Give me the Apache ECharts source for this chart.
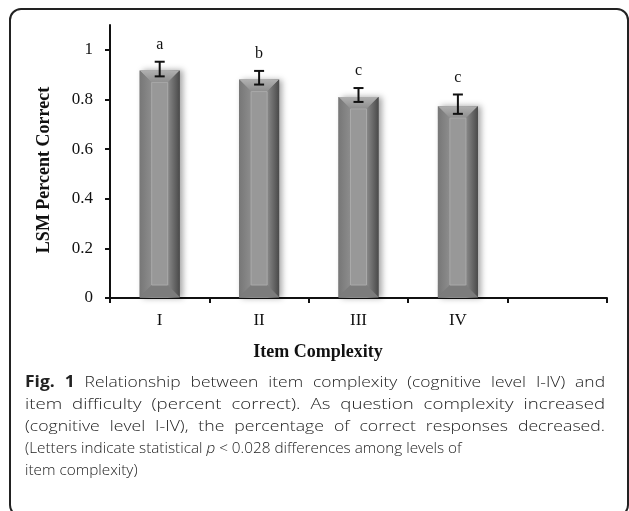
<!DOCTYPE html>
<html>
<head>
<meta charset="utf-8">
<script src="https://cdn.jsdelivr.net/npm/echarts@6/dist/echarts.min.js"></script>
<style>
  html, body { margin: 0; padding: 0; background: #fff; }
  #chart { width: 629px; height: 511px; }
</style>
</head>
<body>
<div id="chart"></div>
<script>
// ---- data ----
const categories = ['I', 'II', 'III', 'IV', ''];
const meanValues = [0.917, 0.880, 0.810, 0.773];
const errLow = [0.893, 0.860, 0.790, 0.742];
const errHigh = [0.952, 0.915, 0.846, 0.820];
const letters = ['a', 'b', 'c', 'c'];
const yTickValues = [0, 0.2, 0.4, 0.6, 0.8, 1];
const yAxisTitle = 'LSM Percent Correct';
const xAxisTitle = 'Item Complexity';
// caption: each line is a list of [text, style]; style: n normal, b bold, i italic
const captionLines = [
  [['Fig. 1', 'b'], ['Relationship between item complexity (cognitive level I-IV) and', 'n']],
  [['item difficulty (percent correct). As question complexity increased', 'n']],
  [['(cognitive level I-IV), the percentage of correct responses decreased.', 'n']],
  [['(Letters indicate statistical', 'n'], ['p', 'i'], ['< 0.028 differences among levels of', 'n']],
  [['item complexity)', 'n']]
];
const captionJustify = [true, true, true, false, false];

const serif = '"Liberation Serif", "Times New Roman", serif';
const sans = '"Open Sans", "Noto Sans", sans-serif';
const BAR_W = 40;

const chart = echarts.init(document.getElementById('chart'), null, {renderer: 'canvas'});

const CAP_SIZE = 15.3;
function capFont(st) {
  if (st === 'b') return 'bold ' + CAP_SIZE + 'px ' + sans;
  if (st === 'i') return 'italic 300 ' + CAP_SIZE + 'px ' + sans;
  return '300 ' + CAP_SIZE + 'px ' + sans;
}
function captionGraphic() {
  const ctx = document.createElement('canvas').getContext('2d');
  const left = 25, right = 605;
  const out = [];
  captionLines.forEach((line, li) => {
    const words = [];
    line.forEach(seg => seg[0].split(' ').forEach(w => { if (w) words.push([w, seg[1]]); }));
    ctx.font = capFont('n');
    const normalSpace = ctx.measureText(' ').width;
    const widths = words.map(w => { ctx.font = capFont(w[1]); return ctx.measureText(w[0]).width; });
    const total = widths.reduce((a, b) => a + b, 0);
    let gap = normalSpace, sx = 1;
    if (captionJustify[li] && words.length > 1) {
      gap = normalSpace * 2.5;
      sx = (right - left - gap * (words.length - 1)) / total;
    }
    let x = left;
    const y = 383 + li * 21.8;
    words.forEach((w, k) => {
      out.push({
        type: 'text', x: x, y: y, scaleX: sx, silent: true,
        style: {text: w[0], font: capFont(w[1]), fill: '#222', align: 'left', verticalAlign: 'middle'}
      });
      x += widths[k] * sx + gap;
    });
  });
  return out;
}

const option = {
  backgroundColor: '#fff',
  animation: false,
  grid: {left: 110, right: 22, top: 25, bottom: 213, containLabel: false},
  xAxis: {
    type: 'category',
    data: categories,
    axisLine: {lineStyle: {color: '#111', width: 2}},
    axisTick: {show: true, length: 5, lineStyle: {color: '#111', width: 2}},
    axisLabel: {color: '#111', fontFamily: serif, fontSize: 17, margin: 14}
  },
  yAxis: {
    type: 'value',
    min: 0,
    max: 1.1,
    splitLine: {show: false},
    axisLine: {show: true, lineStyle: {color: '#111', width: 2}},
    axisTick: {show: true, length: 5, lineStyle: {color: '#111', width: 2}, customValues: yTickValues},
    axisLabel: {color: '#111', fontFamily: serif, fontSize: 17, margin: 17, customValues: yTickValues}
  },
  graphic: [
    {
      type: 'rect',
      shape: {x: 10, y: 9, width: 618, height: 507, r: 11},
      style: {fill: 'none', stroke: '#222', lineWidth: 2},
      silent: true
    },
    {
      type: 'text',
      x: 44, y: 170,
      rotation: Math.PI / 2,
      style: {text: yAxisTitle, font: 'bold 18px ' + serif, fill: '#111', align: 'center', verticalAlign: 'middle'}
    },
    {
      type: 'text',
      x: 318, y: 352,
      style: {text: xAxisTitle, font: 'bold 18px ' + serif, fill: '#111', align: 'center', verticalAlign: 'middle'}
    }
  ].concat(captionGraphic()),
  series: [
    {
      type: 'bar',
      data: meanValues,
      barWidth: BAR_W,
      itemStyle: {
        color: new echarts.graphic.LinearGradient(0, 0, 1, 0, [
          {offset: 0, color: '#6e6e6e'},
          {offset: 0.3, color: '#8a8a8a'},
          {offset: 0.7, color: '#888888'},
          {offset: 1, color: '#4c4c4c'}
        ]),
        shadowColor: 'rgba(0,0,0,0.35)',
        shadowBlur: 6,
        shadowOffsetX: 3,
        shadowOffsetY: 0
      },
      z: 2
    },
    {
      type: 'custom',
      data: meanValues.map((v, i) => [i, v]),
      z: 3,
      renderItem: function (params, api) {
        const i = api.value(0);
        const top = api.coord([i, api.value(1)]);
        const base = api.coord([i, 0]);
        const x0 = top[0] - BAR_W / 2, x1 = top[0] + BAR_W / 2;
        const y0 = top[1], y1 = base[1] - 1;
        const b = 12;
        return {
          type: 'group',
          children: [
            {type: 'polygon', shape: {points: [[x0, y0], [x1, y0], [x1 - b, y0 + b], [x0 + b, y0 + b]]},
              style: {fill: new echarts.graphic.LinearGradient(0, 0, 0, 1, [{offset: 0, color: '#b0b0b0'}, {offset: 1, color: '#8e8e8e'}])}},
            {type: 'polygon', shape: {points: [[x0, y0], [x0 + b, y0 + b], [x0 + b, y1 - b], [x0, y1]]},
              style: {fill: new echarts.graphic.LinearGradient(0, 0, 1, 0, [{offset: 0, color: '#777'}, {offset: 1, color: '#8d8d8d'}])}},
            {type: 'polygon', shape: {points: [[x1, y0], [x1 - b, y0 + b], [x1 - b, y1 - b], [x1, y1]]},
              style: {fill: new echarts.graphic.LinearGradient(0, 0, 1, 0, [{offset: 0, color: '#8a8a8a'}, {offset: 1, color: '#4a4a4a'}])}},
            {type: 'polygon', shape: {points: [[x0, y1], [x1, y1], [x1 - b, y1 - b], [x0 + b, y1 - b]]},
              style: {fill: '#7c7c7c'}},
            {type: 'rect', shape: {x: x0 + b, y: y0 + b, width: BAR_W - 2 * b, height: y1 - y0 - 2 * b},
              style: {fill: '#989898', stroke: '#a9a9a9', lineWidth: 1}}
          ]
        };
      }
    },
    {
      type: 'custom',
      data: meanValues.map((v, i) => [i, errLow[i], errHigh[i]]),
      z: 4,
      renderItem: function (params, api) {
        const i = api.value(0);
        const lo = api.coord([i, api.value(1)]);
        const hi = api.coord([i, api.value(2)]);
        const cx = lo[0];
        const cap = 5;
        return {
          type: 'group',
          children: [
            {type: 'line', shape: {x1: cx, y1: lo[1], x2: cx, y2: hi[1]}, style: {stroke: '#111', lineWidth: 2}},
            {type: 'line', shape: {x1: cx - cap, y1: lo[1], x2: cx + cap, y2: lo[1]}, style: {stroke: '#111', lineWidth: 2}},
            {type: 'line', shape: {x1: cx - cap, y1: hi[1], x2: cx + cap, y2: hi[1]}, style: {stroke: '#111', lineWidth: 2}},
            {type: 'text', x: cx, y: hi[1] - 9,
              style: {text: letters[params.dataIndex], font: '16px ' + serif, fill: '#111', align: 'center', verticalAlign: 'bottom'}}
          ]
        };
      }
    }
  ]
};

chart.setOption(option);
</script>
</body>
</html>
